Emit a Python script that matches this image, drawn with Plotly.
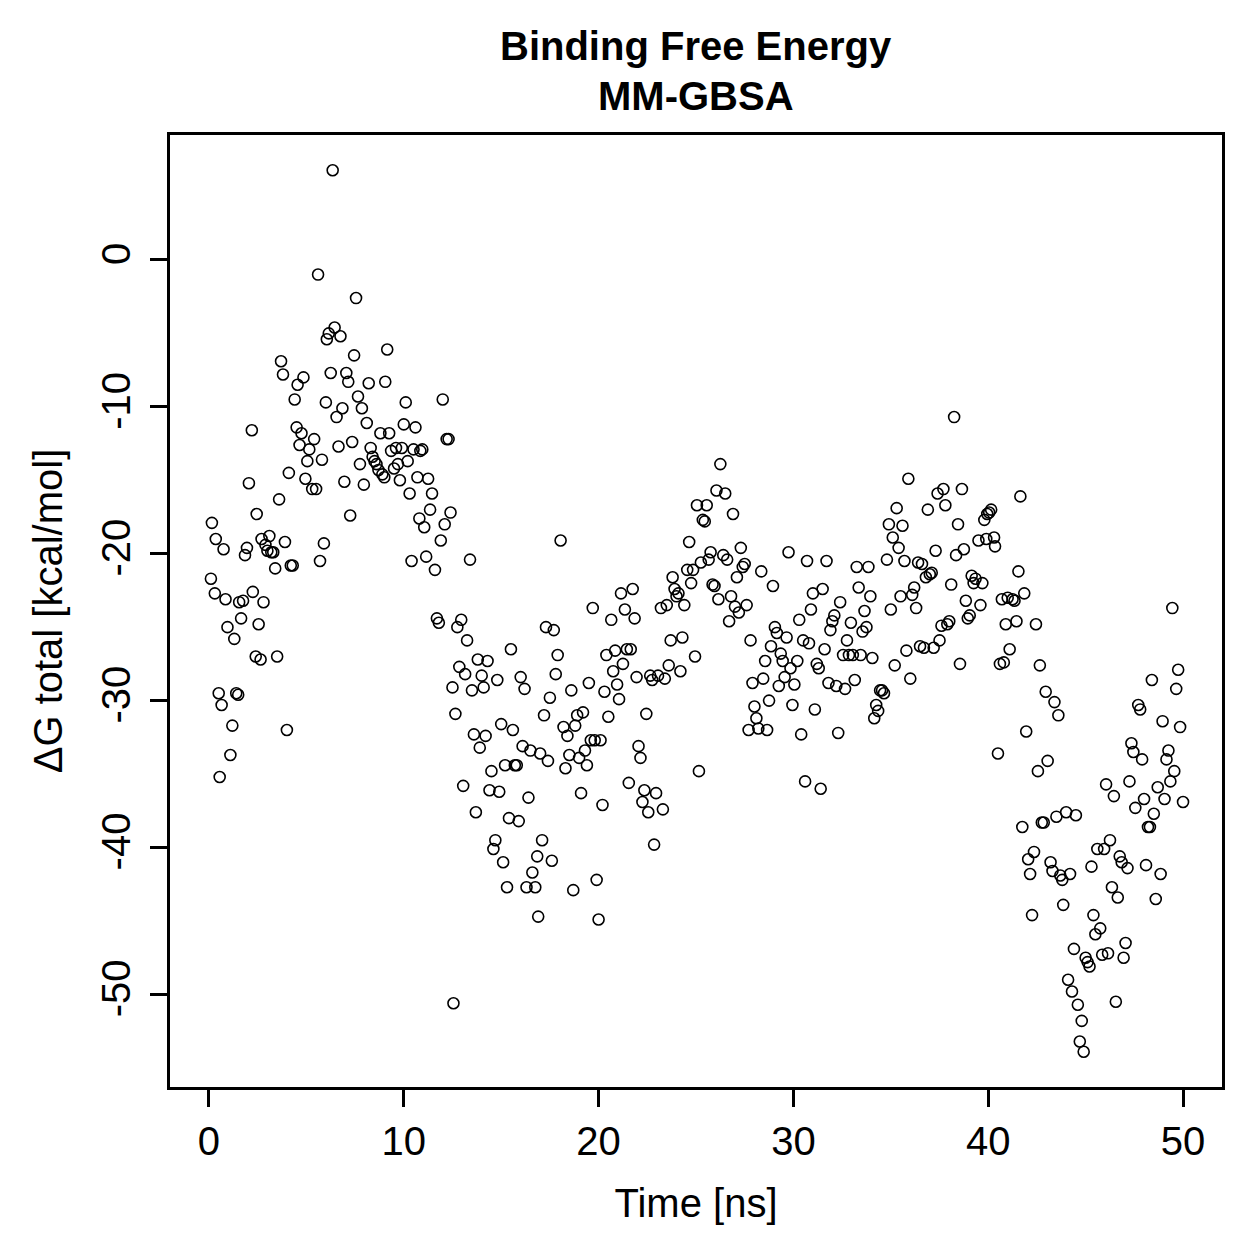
import plotly.graph_objects as go

time_ns = [
    0.1, 0.15, 0.3, 0.35, 0.5, 0.55, 0.65, 0.75, 0.85, 0.95,
    1.1, 1.2, 1.3, 1.4, 1.5, 1.55, 1.65, 1.75, 1.85, 1.95,
    2.05, 2.2, 2.25, 2.4, 2.45, 2.55, 2.65, 2.7, 2.8, 2.9,
    3.0, 3.1, 3.2, 3.3, 3.4, 3.5, 3.6, 3.7, 3.8, 3.9,
    4.0, 4.1, 4.2, 4.3, 4.4, 4.5, 4.55, 4.65, 4.75, 4.85,
    4.95, 5.05, 5.15, 5.3, 5.4, 5.5, 5.6, 5.7, 5.8, 5.9,
    6.0, 6.05, 6.15, 6.25, 6.35, 6.45, 6.55, 6.65, 6.75, 6.85,
    6.95, 7.05, 7.15, 7.25, 7.35, 7.45, 7.55, 7.65, 7.75, 7.85,
    7.95, 8.1, 8.2, 8.3, 8.4, 8.5, 8.6, 8.7, 8.8, 8.9,
    9.0, 9.05, 9.15, 9.25, 9.35, 9.5, 9.6, 9.7, 9.8, 9.9,
    10.0, 10.1, 10.2, 10.3, 10.4, 10.5, 10.6, 10.7, 10.8, 10.85,
    10.95, 11.05, 11.15, 11.25, 11.35, 11.45, 11.6, 11.7, 11.8, 11.9,
    12.0, 12.1, 12.2, 12.3, 12.4, 12.5, 12.55, 12.65, 12.75, 12.85,
    12.95, 13.05, 13.15, 13.25, 13.4, 13.5, 13.6, 13.7, 13.8, 13.9,
    14.0, 14.1, 14.2, 14.3, 14.4, 14.5, 14.6, 14.7, 14.8, 14.9,
    15.0, 15.1, 15.2, 15.3, 15.4, 15.5, 15.6, 15.7, 15.8, 15.9,
    16.0, 16.1, 16.2, 16.3, 16.4, 16.5, 16.6, 16.75, 16.85, 16.9,
    17.0, 17.1, 17.2, 17.3, 17.4, 17.5, 17.6, 17.7, 17.8, 17.9,
    18.05, 18.2, 18.3, 18.4, 18.5, 18.6, 18.7, 18.8, 18.9, 19.0,
    19.1, 19.2, 19.3, 19.4, 19.5, 19.6, 19.7, 19.8, 19.9, 20.0,
    20.1, 20.2, 20.3, 20.4, 20.5, 20.65, 20.75, 20.85, 20.95, 21.05,
    21.15, 21.25, 21.35, 21.45, 21.55, 21.65, 21.75, 21.85, 21.95, 22.05,
    22.15, 22.25, 22.35, 22.45, 22.55, 22.65, 22.75, 22.85, 22.95, 23.05,
    23.2, 23.3, 23.4, 23.5, 23.6, 23.7, 23.8, 23.9, 24.0, 24.1,
    24.2, 24.3, 24.4, 24.55, 24.65, 24.75, 24.85, 24.95, 25.05, 25.15,
    25.25, 25.35, 25.45, 25.55, 25.65, 25.75, 25.85, 25.95, 26.05, 26.15,
    26.25, 26.4, 26.5, 26.6, 26.7, 26.8, 26.9, 27.0, 27.1, 27.2,
    27.3, 27.4, 27.5, 27.6, 27.7, 27.8, 27.9, 28.0, 28.1, 28.2,
    28.35, 28.45, 28.55, 28.65, 28.75, 28.85, 28.95, 29.05, 29.15, 29.25,
    29.35, 29.45, 29.55, 29.65, 29.75, 29.85, 29.95, 30.05, 30.2, 30.3,
    30.4, 30.5, 30.6, 30.7, 30.8, 30.9, 31.0, 31.1, 31.2, 31.3,
    31.4, 31.5, 31.6, 31.7, 31.8, 31.9, 32.0, 32.1, 32.2, 32.3,
    32.4, 32.55, 32.65, 32.75, 32.85, 32.95, 33.05, 33.15, 33.25, 33.35,
    33.45, 33.55, 33.65, 33.75, 33.85, 33.95, 34.05, 34.15, 34.25, 34.35,
    34.45, 34.55, 34.65, 34.8, 34.9, 35.0, 35.1, 35.2, 35.3, 35.4,
    35.5, 35.6, 35.7, 35.8, 35.9, 36.0, 36.1, 36.2, 36.3, 36.4,
    36.5, 36.6, 36.7, 36.8, 36.9, 37.0, 37.1, 37.2, 37.3, 37.4,
    37.5, 37.6, 37.7, 37.8, 37.9, 38.0, 38.1, 38.25, 38.35, 38.45,
    38.55, 38.65, 38.75, 38.85, 38.95, 39.05, 39.15, 39.25, 39.35, 39.5,
    39.6, 39.7, 39.8, 39.9, 39.95, 40.05, 40.15, 40.3, 40.35, 40.5,
    40.6, 40.7, 40.8, 40.9, 41.0, 41.1, 41.25, 41.35, 41.45, 41.55,
    41.65, 41.75, 41.85, 41.95, 42.05, 42.15, 42.25, 42.35, 42.45, 42.55,
    42.65, 42.75, 42.85, 42.95, 43.05, 43.2, 43.3, 43.4, 43.5, 43.6,
    43.7, 43.8, 43.85, 44.0, 44.1, 44.2, 44.3, 44.4, 44.5, 44.6,
    44.7, 44.8, 44.9, 45.0, 45.1, 45.2, 45.3, 45.4, 45.5, 45.6,
    45.75, 45.85, 45.95, 46.05, 46.15, 46.25, 46.35, 46.45, 46.55, 46.65,
    46.75, 46.85, 46.95, 47.05, 47.15, 47.25, 47.35, 47.45, 47.55, 47.7,
    47.8, 47.9, 48.0, 48.1, 48.2, 48.3, 48.4, 48.5, 48.6, 48.7,
    48.85, 48.95, 49.05, 49.15, 49.25, 49.35, 49.45, 49.55, 49.65, 49.75,
    49.85, 50.0,
]

dg_total = [
    -21.7, -17.9, -22.7, -19.0, -29.5, -35.2, -30.3, -19.7, -23.1, -25.0,
    -33.7, -31.7, -25.8, -29.5, -29.6, -23.3, -24.4, -23.2, -20.1, -19.6,
    -15.2, -11.6, -22.6, -27.0, -17.3, -24.8, -27.2, -19.0, -23.3, -19.4,
    -19.8, -18.8, -19.9, -19.9, -21.0, -27.0, -16.3, -6.9, -7.8, -19.2,
    -32.0, -14.5, -20.8, -20.8, -9.5, -11.4, -8.5, -12.6, -11.8, -8.0,
    -14.9, -13.7, -12.9, -15.6, -12.2, -15.6, -1.0, -20.5, -13.6, -19.3,
    -9.7, -5.4, -5.0, -7.7, 6.1, -4.6, -10.7, -12.7, -5.2, -10.1,
    -15.1, -7.7, -8.3, -17.4, -12.4, -6.5, -2.6, -9.3, -13.9, -10.1,
    -15.3, -11.1, -8.4, -12.8, -13.4, -13.7, -13.9, -14.3, -11.8, -14.6,
    -14.8, -8.3, -6.1, -11.8, -13.0, -14.2, -12.8, -13.9, -15.0, -12.8,
    -11.2, -9.7, -13.7, -15.9, -20.5, -12.9, -11.4, -14.8, -17.6, -13.0,
    -12.9, -18.2, -20.2, -14.9, -17.0, -15.9, -21.1, -24.4, -24.7, -19.1,
    -9.5, -18.0, -12.2, -12.2, -17.2, -29.1, -50.6, -30.9, -25.0, -27.7,
    -24.5, -35.8, -28.2, -25.9, -20.4, -29.3, -32.3, -37.6, -27.2, -33.2,
    -28.3, -29.1, -32.4, -27.3, -36.1, -34.8, -40.1, -39.5, -28.6, -36.2,
    -31.6, -41.0, -34.4, -42.7, -38.0, -26.5, -32.0, -34.4, -34.4, -38.2,
    -28.4, -33.1, -29.2, -42.7, -36.6, -33.4, -41.7, -42.7, -40.6, -44.7,
    -33.6, -39.5, -31.0, -25.0, -34.1, -29.8, -40.9, -25.2, -28.2, -26.9,
    -19.1, -31.8, -34.6, -32.4, -33.7, -29.3, -42.9, -31.7, -31.0, -33.9,
    -36.3, -30.8, -33.4, -34.4, -28.8, -32.7, -23.7, -32.7, -42.2, -44.9,
    -32.7, -37.1, -29.4, -26.9, -31.1, -24.5, -28.0, -26.6, -28.9, -29.9,
    -22.7, -27.5, -23.8, -26.5, -35.6, -26.5, -22.4, -24.4, -28.4, -33.1,
    -33.9, -36.9, -36.1, -30.9, -37.6, -28.3, -28.6, -39.8, -36.3, -28.3,
    -23.7, -37.4, -28.5, -23.5, -27.6, -25.9, -21.6, -22.4, -22.9, -22.7,
    -28.0, -25.7, -23.5, -21.1, -19.2, -22.0, -21.1, -27.0, -16.7, -34.8,
    -20.6, -17.7, -17.8, -16.7, -20.4, -19.9, -22.1, -22.2, -15.7, -23.1,
    -13.9, -20.1, -15.9, -20.4, -24.6, -22.9, -17.3, -23.6, -21.6, -24.0,
    -19.6, -20.9, -20.7, -23.5, -32.0, -25.9, -28.8, -30.4, -31.2, -31.9,
    -21.2, -28.5, -27.3, -32.0, -30.0, -26.3, -22.2, -25.0, -25.4, -29.0,
    -26.8, -27.3, -28.4, -25.7, -19.9, -27.8, -30.3, -28.9, -27.3, -24.5,
    -32.3, -25.9, -35.5, -20.5, -26.1, -23.8, -22.7, -30.6, -27.5, -27.8,
    -36.0, -22.4, -26.5, -20.5, -28.8, -25.2, -24.6, -24.2, -29.0, -32.2,
    -23.3, -26.9, -29.2, -25.9, -26.9, -24.7, -26.9, -28.6, -20.9, -22.3,
    -26.9, -25.3, -23.9, -25.0, -20.9, -22.9, -27.1, -31.2, -30.3, -30.7,
    -29.3, -29.3, -29.5, -20.4, -18.0, -23.8, -18.9, -27.6, -16.9, -19.6,
    -22.9, -18.1, -20.5, -26.6, -14.9, -28.5, -22.8, -22.3, -23.7, -20.6,
    -26.3, -20.7, -26.4, -21.6, -17.0, -21.4, -21.3, -26.4, -19.8, -15.9,
    -25.9, -24.9, -15.6, -16.7, -24.8, -24.6, -22.1, -10.7, -20.1, -18.0,
    -27.5, -15.6, -19.7, -23.2, -24.4, -24.2, -21.5, -22.0, -21.7, -19.1,
    -23.5, -22.0, -17.7, -19.0, -17.3, -17.2, -17.0, -18.9, -19.5, -33.6,
    -27.5, -23.1, -27.4, -24.8, -23.0, -26.5, -23.1, -23.2, -24.6, -21.2,
    -16.1, -38.6, -22.7, -32.1, -40.8, -41.8, -44.6, -40.3, -24.8, -34.8,
    -27.6, -38.3, -38.3, -29.4, -34.1, -41.0, -41.6, -30.1, -37.9, -31.0,
    -41.9, -42.2, -43.9, -37.6, -49.0, -41.8, -49.8, -46.9, -37.8, -50.7,
    -53.2, -51.8, -53.9, -47.5, -47.8, -48.1, -41.3, -44.6, -45.9, -40.1,
    -45.5, -47.3, -40.1, -35.7, -47.2, -39.5, -42.7, -36.5, -50.5, -43.4,
    -40.6, -41.0, -47.5, -46.5, -41.4, -35.5, -32.9, -33.5, -37.3, -30.3,
    -30.6, -34.0, -36.7, -41.2, -38.6, -38.6, -28.6, -37.7, -43.5, -35.9,
    -41.8, -31.4, -36.7, -34.0, -33.4, -35.5, -23.7, -34.8, -29.2, -27.9,
    -31.8, -36.9,
]

x_ticks = [0, 10, 20, 30, 40, 50]
y_ticks = [-50, -40, -30, -20, -10, 0]
title_lines = ["Binding Free Energy", "MM-GBSA"]

FONT = "Liberation Sans, Arial, Helvetica, sans-serif"
PLOT_TOP, PLOT_BOTTOM = 135, 1087
PLOT_H = PLOT_BOTTOM - PLOT_TOP

fig = go.Figure(
    go.Scatter(
        x=time_ns,
        y=dg_total,
        mode="markers",
        marker=dict(
            symbol="circle-open",
            size=11,
            color="black",
            line=dict(width=1.6, color="black"),
        ),
        showlegend=False,
    )
)

axis_common = dict(
    showgrid=False,
    zeroline=False,
    showline=True,
    linecolor="black",
    linewidth=2.5,
    mirror=True,
    ticks="outside",
    ticklen=17,
    tickwidth=2.5,
    tickcolor="black",
    tickfont=dict(family=FONT, size=40, color="black"),
)

# title lines centred at y=45 and y=95 px from the top
for line, center_px in zip(title_lines, [46, 96]):
    fig.add_annotation(
        text=f"<b>{line}</b>",
        xref="paper", yref="paper",
        x=0.5, y=1 + (PLOT_TOP - center_px) / PLOT_H,
        xanchor="center", yanchor="middle",
        showarrow=False,
        font=dict(family=FONT, size=40, color="black"),
    )

fig.update_layout(
    width=1259,
    height=1259,
    margin=dict(l=170, r=37, t=PLOT_TOP, b=1259 - PLOT_BOTTOM),
    paper_bgcolor="white",
    plot_bgcolor="white",
    font=dict(family=FONT, color="black"),
    xaxis=dict(
        range=[-2, 52],
        tickvals=x_ticks,
        ticktext=[str(v) for v in x_ticks],
        ticklabelstandoff=0,
        title=dict(text="Time [ns]", font=dict(family=FONT, size=40), standoff=28),
        **axis_common,
    ),
    yaxis=dict(
        range=[-56.3, 8.5],
        tickvals=y_ticks,
        ticktext=[str(v) for v in y_ticks],
        tickangle=-90,
        ticklabelstandoff=4,
        title=dict(text="ΔG total [kcal/mol]", font=dict(family=FONT, size=40), standoff=20),
        **axis_common,
    ),
)

fig.write_html("out.html")
